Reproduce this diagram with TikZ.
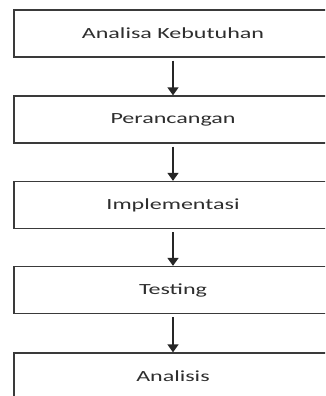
\documentclass[tikz,border=0pt]{standalone}
\usepackage{fontspec}
\setmainfont{Carlito}
\usetikzlibrary{arrows.meta}
\definecolor{boxline}{HTML}{3A3A3A}
\definecolor{boxtext}{HTML}{2E2E2E}
% stage labels are set wide, stretched horizontally
\newcommand{\widelabel}[1]{\scalebox{1.55}[1]{#1}}
\tikzset{
  stagebox/.style={draw=boxline, line width=1.3pt, fill=white,
    minimum width=318pt, minimum height=47pt, inner sep=0pt,
    text=boxtext, font=\fontsize{15.5}{18}\selectfont},
  flowarrow/.style={draw=black!85, line width=1.6pt, shorten <=3pt,
    -{Triangle[width=11pt,length=8pt]}}
}
\begin{document}
\begin{tikzpicture}[x=1pt,y=-1pt]
  \useasboundingbox (0,0) rectangle (325,396);
  \begin{scope}
    \clip (0,0) rectangle (325,396);
    \node[stagebox] (s1) at (173,33.5) {\widelabel{Analisa Kebutuhan}};
    \node[stagebox] (s2) at (173,119.5) {\widelabel{Perancangan}};
    \node[stagebox] (s3) at (173,205) {\widelabel{Implementasi}};
    \node[stagebox] (s4) at (173,290) {\widelabel{Testing}};
    \node[stagebox] (s5) at (173,376.5) {\widelabel{Analisis}};
    \draw[flowarrow] (s1.south) -- (s2.north);
    \draw[flowarrow] (s2.south) -- (s3.north);
    \draw[flowarrow] (s3.south) -- (s4.north);
    \draw[flowarrow] (s4.south) -- (s5.north);
  \end{scope}
\end{tikzpicture}
\end{document}
